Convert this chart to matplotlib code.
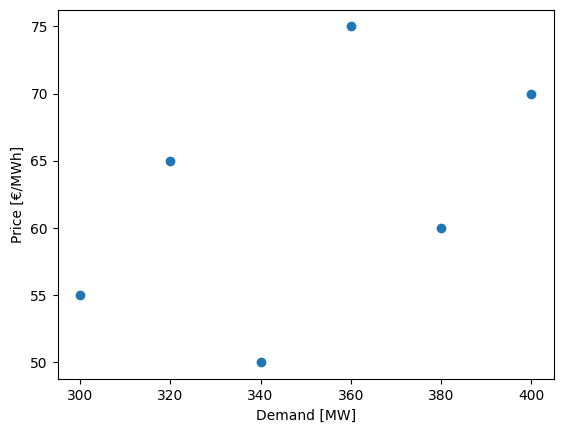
import matplotlib
matplotlib.use("Agg")
import matplotlib.pyplot as plt

# demand vs price points
demand = [300, 320, 340, 360, 380, 400]
price = [55, 65, 50, 75, 60, 70]

fig = plt.figure(figsize=(5.62, 4.32), dpi=100)
ax = fig.add_axes([57.6 / 562, (432 - 379.2) / 432, 496 / 562, 369.6 / 432])
ax.scatter(demand, price)
ax.set_xlabel("Demand [MW]")
ax.set_ylabel("Price [€/MWh]")

fig.savefig("out.png", dpi=100)
